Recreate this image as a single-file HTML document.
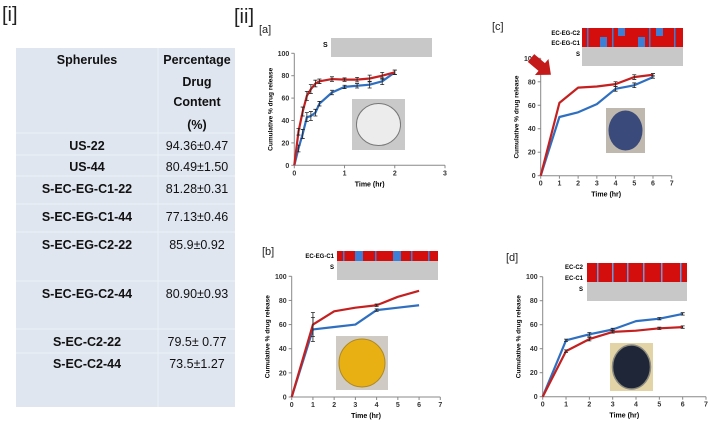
<!DOCTYPE html>
<html><head><meta charset="utf-8"><style>
html,body{margin:0;padding:0;background:#fff;}
svg{display:block;font-family:"Liberation Sans",sans-serif;}
.tk{font-size:7px;fill:#333;font-weight:bold}
.tbl{font-size:12.5px;fill:#111;text-anchor:middle}
</style></head><body>
<svg id="fig" width="710" height="423" viewBox="0 0 710 423">
<text x="2" y="21" font-size="20" fill="#222">[i]</text>
<text x="234" y="23" font-size="20" fill="#222">[ii]</text>
<g>
<rect x="16" y="48" width="219" height="359" fill="#dfe6f0"/>
<g stroke="#eef2f7" stroke-width="1">
<line x1="16" y1="133" x2="235" y2="133"/><line x1="16" y1="155" x2="235" y2="155"/>
<line x1="16" y1="176" x2="235" y2="176"/><line x1="16" y1="204" x2="235" y2="204"/>
<line x1="16" y1="232" x2="235" y2="232"/><line x1="16" y1="281" x2="235" y2="281"/>
<line x1="16" y1="329" x2="235" y2="329"/><line x1="16" y1="353" x2="235" y2="353"/>
<line x1="158" y1="48" x2="158" y2="407"/>
</g>
<g class="tbl" font-weight="bold">
<text x="87" y="64">Spherules</text>
<text x="197" y="64">Percentage</text><text x="197" y="86">Drug</text>
<text x="197" y="106">Content</text><text x="197" y="129">(%)</text>
<text x="87" y="150">US-22</text><text x="87" y="171">US-44</text>
<text x="87" y="193">S-EC-EG-C1-22</text><text x="87" y="221">S-EC-EG-C1-44</text>
<text x="87" y="249">S-EC-EG-C2-22</text><text x="87" y="298">S-EC-EG-C2-44</text>
<text x="87" y="346">S-EC-C2-22</text><text x="87" y="368">S-EC-C2-44</text>
</g>
<g class="tbl">
<text x="197" y="150">94.36±0.47</text><text x="197" y="171">80.49±1.50</text>
<text x="197" y="193">81.28±0.31</text><text x="197" y="221">77.13±0.46</text>
<text x="197" y="249">85.9±0.92</text><text x="197" y="298">80.90±0.93</text>
<text x="197" y="346">79.5± 0.77</text><text x="197" y="368">73.5±1.27</text>
</g>
</g>

<g>
<text x="259" y="33" font-size="11" fill="#222">[a]</text>
<text x="323" y="47" font-size="7" font-weight="bold">S</text>
<rect x="331" y="38" width="101" height="19" fill="#c8c8c8"/>
<rect x="352" y="99" width="53" height="51" fill="#c9c9c9"/>
<ellipse cx="378.5" cy="124.5" rx="22" ry="21" fill="#ececec" stroke="#777" stroke-width="1"/>
</g>
<g>
<text x="492" y="30" font-size="11" fill="#222">[c]</text>
<g font-size="6" font-weight="bold" text-anchor="end"><text x="580" y="35">EC-EG-C2</text><text x="580" y="45">EC-EG-C1</text><text x="580" y="56">S</text></g>
<rect x="582" y="28" width="101" height="19" fill="#d40d0d"/>
<rect x="582" y="47" width="101" height="19" fill="#c8c8c8"/>
<g fill="#3d7fd6"><rect x="618" y="28" width="7" height="8"/><rect x="600" y="37" width="7" height="10"/><rect x="656" y="28" width="7" height="8"/><rect x="638" y="37" width="7" height="10"/>
<rect x="587" y="28" width="1.5" height="19"/><rect x="612" y="28" width="1.5" height="19"/><rect x="649" y="28" width="1.5" height="19"/><rect x="674" y="28" width="1.5" height="19"/></g>
<rect x="606" y="108" width="39" height="45" fill="#bfb8ae"/>
<ellipse cx="625.5" cy="130.5" rx="17" ry="20" fill="#3a4a7a"/>
</g>
<g>
<text x="262" y="255" font-size="11" fill="#222">[b]</text>
<g font-size="6" font-weight="bold" text-anchor="end"><text x="334" y="258">EC-EG-C1</text><text x="334" y="269">S</text></g>
<rect x="337" y="251" width="101" height="10" fill="#d40d0d"/>
<rect x="337" y="261" width="101" height="19" fill="#c8c8c8"/>
<g fill="#3d7fd6"><rect x="355" y="251" width="8" height="10"/><rect x="393" y="251" width="8" height="10"/><rect x="343" y="251" width="1.5" height="10"/><rect x="375" y="251" width="1.5" height="10"/><rect x="411" y="251" width="1.5" height="10"/><rect x="428" y="251" width="1.5" height="10"/></g>
<rect x="336" y="336" width="52" height="54" fill="#cfcac4"/>
<ellipse cx="362" cy="363" rx="23" ry="24" fill="#e8b012" stroke="#b08a20" stroke-width="1"/>
</g>
<g>
<text x="506" y="261" font-size="11" fill="#222">[d]</text>
<g font-size="6" font-weight="bold" text-anchor="end"><text x="583" y="269">EC-C2</text><text x="583" y="280">EC-C1</text><text x="583" y="291">S</text></g>
<rect x="587" y="263" width="100" height="19" fill="#d40d0d"/>
<rect x="587" y="282" width="100" height="19" fill="#c8c8c8"/>
<g fill="#6a9be0"><rect x="597" y="263" width="1.5" height="19"/><rect x="612" y="263" width="1.5" height="19"/><rect x="627" y="263" width="1.5" height="19"/><rect x="643" y="263" width="1.5" height="19"/><rect x="661" y="263" width="1.5" height="19"/><rect x="680" y="263" width="1.5" height="19"/></g>
<rect x="610" y="343" width="43" height="48" fill="#e3d4a8"/>
<ellipse cx="631.5" cy="367" rx="19" ry="22" fill="#1e2638" stroke="#8a8a80" stroke-width="1.5"/>
</g>
<g id="charts"></g>
<g transform="translate(531,58) rotate(40)">
<polygon points="0,-5 14,-5 14,-10.5 26,0 14,10.5 14,5 0,5" fill="#c41a1a"/>
</g>
</svg>
<script>
// Panel a
const aTime=[0,0.083,0.167,0.25,0.33,0.42,0.5,0.75,1,1.25,1.5,1.75,2];
const aRed=[0,30,48,62,68,73,75,77,76.5,76.5,77.5,80,83];
const aBlue=[0,15,28,43,44,47,55,65,70,71,72,75,83];
const aErr=[0,3,4,4,4,3,2,2,1.5,2,3,3,2];
const aXTicks=[0,1,2,3];
// Panel b
const bTime=[0,1,2,3,4,5,6];
const bRed=[0,60,71,74,76,83,88];
const bBlue=[0,56,58,60,72,74,76];
const bErr=[0,10,0,0,1,0,0];
// Panel c
const cTime=[0,1,2,3,4,5,6];
const cRed=[0,62,75,76,78,84,86];
const cBlue=[0,50,54,61,74,77,84];
const cErr=[0,0,0,0,2,2,1];
// Panel d
const dTime=[0,1,2,3,4,5,6];
const dRed=[0,38,48,54,55,57,58];
const dBlue=[0,47,52,56,63,65,69];
const dErr=[0,1,1.5,1,0,1,1];
const x7Ticks=[0,1,2,3,4,5,6,7];
const yTicks=[0,20,40,60,80,100];

const NS='http://www.w3.org/2000/svg';
const root=document.getElementById('charts');
function mk(tag,attrs,parent){const e=document.createElementNS(NS,tag);for(const k in attrs)e.setAttribute(k,attrs[k]);parent.appendChild(e);return e;}

function panel(id,x0,x1,xmax,y0,y100,xt,time,red,blue,err){
  const g=mk('g',{},root);
  
  
  const sx=v=>x0+(x1-x0)*v/xmax, sy=v=>y0-(y0-y100)*v/100;
  const ax=mk('g',{stroke:'#888','stroke-width':1},g);
  
  
  mk('line',{x1:x0,y1:y0,x2:x1,y2:y0},ax);
  mk('line',{x1:x0,y1:y0,x2:x0,y2:y100},ax);
  xt.forEach(t=>{mk('line',{x1:sx(t),y1:y0,x2:sx(t),y2:y0+3},ax);
    const tx=mk('text',{x:sx(t),y:y0+10,'text-anchor':'middle',class:'tk',stroke:'none'},g);tx.textContent=t;
    
    });
  yTicks.forEach(t=>{mk('line',{x1:x0-3,y1:sy(t),x2:x0,y2:sy(t)},ax);
    const tx=mk('text',{x:x0-5,y:sy(t)+2.5,'text-anchor':'end',class:'tk',stroke:'none'},g);tx.textContent=t;
    
    });
  const xl=mk('text',{x:(x0+sx(xt[xt.length-1]))/2,y:y0+21,'text-anchor':'middle','font-size':7,'font-weight':'bold'},g);
  xl.textContent='Time (hr)';
  
  
  const yl=mk('text',{transform:`translate(${x0-22},${(y0+y100)/2}) rotate(-90)`,'text-anchor':'middle','font-size':6.5,'font-weight':'bold'},g);
  yl.textContent='Cumulative % drug release';
  
  
  [[blue,'#2f6fc0','blue'],[red,'#c4201f','red']].forEach(([s,c,n])=>{
    const p=mk('polyline',{points:time.map((t,i)=>sx(t)+','+sy(s[i])).join(' '),fill:'none',stroke:c,'stroke-width':2.2,'stroke-linejoin':'round'},g);
    
    
    time.forEach((t,i)=>{if(err[i]>0){const e=mk('path',{d:`M${sx(t)-2},${sy(s[i]+err[i])}H${sx(t)+2}M${sx(t)},${sy(s[i]+err[i])}V${sy(s[i]-err[i])}M${sx(t)-2},${sy(s[i]-err[i])}H${sx(t)+2}`,stroke:'#222','stroke-width':0.8,fill:'none'},g);
      
      }});
  });
}
panel('panel-a',294.3,445,3,165.3,53.3,aXTicks,aTime,aRed,aBlue,aErr);
panel('panel-b',291.7,440.3,7,397,276.3,x7Ticks,bTime,bRed,bBlue,bErr);
panel('panel-c',540.7,671.7,7,175.7,58.3,x7Ticks,cTime,cRed,cBlue,cErr);
panel('panel-d',542.7,706,7,396.7,276.7,x7Ticks,dTime,dRed,dBlue,dErr);
</script>
</body></html>
